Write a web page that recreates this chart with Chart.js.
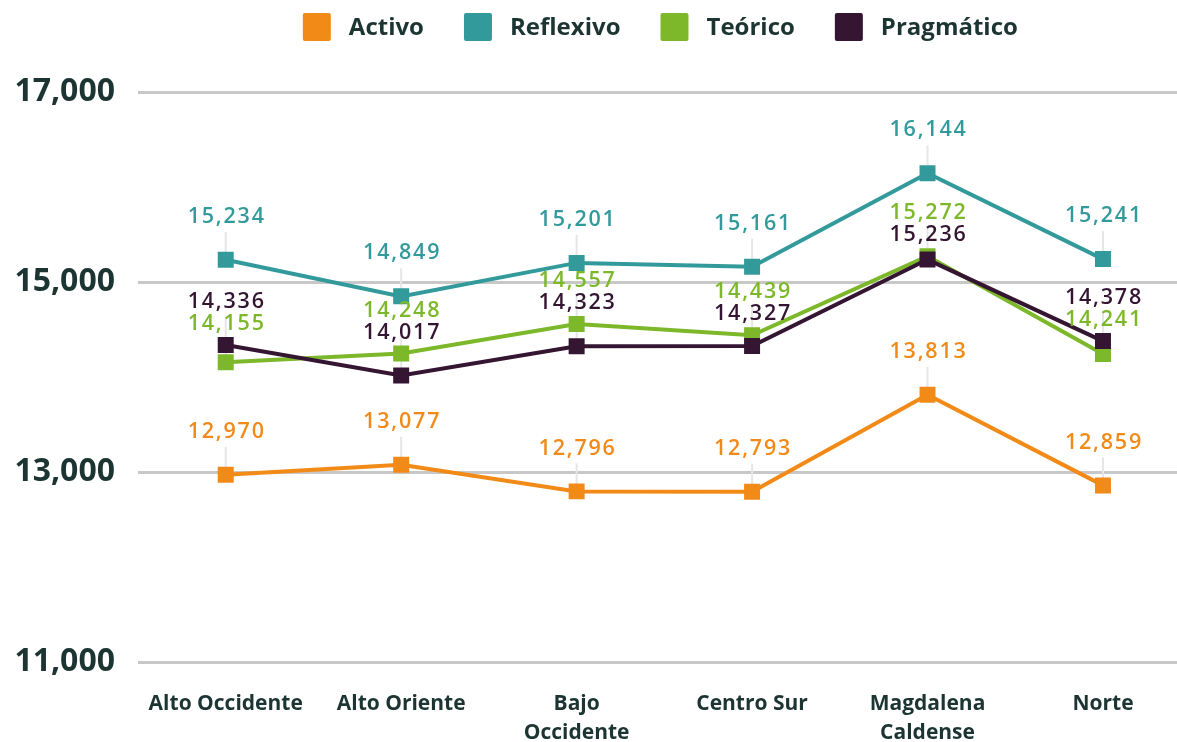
<!DOCTYPE html>
<html lang="es">
<head>
<meta charset="UTF-8">
<title>Estilos de aprendizaje por subregión</title>
<script src="https://cdn.jsdelivr.net/npm/chart.js@4.4.1/dist/chart.umd.min.js"></script>
<style>
  html, body { margin: 0; padding: 0; background: #fff; }
  #wrap { width: 1177px; height: 742px; overflow: hidden; }
</style>
</head>
<body>
<div id="wrap"><canvas id="chart" width="1202" height="742"></canvas></div>
<script>
// datos
const subregiones = [['Alto Occidente'], ['Alto Oriente'], ['Bajo', 'Occidente'], ['Centro Sur'], ['Magdalena', 'Caldense'], ['Norte']];
const activo     = [12970, 13077, 12796, 12793, 13813, 12859];
const reflexivo  = [15234, 14849, 15201, 15161, 16144, 15241];
const teorico    = [14155, 14248, 14557, 14439, 15272, 14241];
const pragmatico = [14336, 14017, 14323, 14327, 15236, 14378];
const ejeY = [11000, 13000, 15000, 17000];

const TEXTO = '#1c3533';
const series = [
  { label: 'Activo',     data: activo,     color: '#f28a17', order: 3 },
  { label: 'Reflexivo',  data: reflexivo,  color: '#339a9b', order: 2 },
  { label: 'Teórico',    data: teorico,    color: '#7cb829', order: 1 },
  { label: 'Pragmático', data: pragmatico, color: '#341532', order: 0 }
];

// etiquetas de valor con su linea guia
function posicionesEtiquetas(chart) {
  const out = [];
  const n = chart.data.labels.length;
  for (let i = 0; i < n; i++) {
    const col = [];
    chart.data.datasets.forEach((ds, d) => {
      const pt = chart.getDatasetMeta(d).data[i];
      col.push({ d, i, x: pt.x, py: pt.y, y: pt.y - 44, v: ds.data[i], color: ds.borderColor });
    });
    col.sort((a, b) => a.py - b.py);
    for (let k = 1; k < col.length; k++) {
      if (col[k].y < col[k - 1].y + 22) col[k].y = col[k - 1].y + 22;
    }
    out.push(...col);
  }
  return out;
}

const etiquetas = {
  id: 'etiquetas',
  beforeDatasetsDraw(chart) {
    const ctx = chart.ctx;
    ctx.save();
    ctx.strokeStyle = '#e6e6e6';
    ctx.lineWidth = 2;
    posicionesEtiquetas(chart).forEach(e => {
      ctx.beginPath();
      ctx.moveTo(e.x, e.y + 16);
      ctx.lineTo(e.x, e.py);
      ctx.stroke();
    });
    ctx.restore();
  },
  afterDatasetsDraw(chart) {
    const ctx = chart.ctx;
    ctx.save();
    ctx.font = '600 21.5px "Open Sans"';
    ctx.letterSpacing = '1.8px';
    ctx.textAlign = 'center';
    ctx.textBaseline = 'middle';
    posicionesEtiquetas(chart).forEach(e => {
      ctx.fillStyle = e.color;
      ctx.fillText(e.v.toLocaleString('en-US'), e.x + 1, e.y + 1);
    });
    ctx.restore();
  }
};

// leyenda propia arriba
const leyenda = {
  id: 'leyenda',
  afterDraw(chart) {
    const ctx = chart.ctx;
    const caja = 28, sep = 18, gap = 40, yc = 27;
    ctx.save();
    ctx.font = 'bold 24px "Open Sans"';
    ctx.textBaseline = 'middle';
    const anchos = series.map(s => caja + sep + ctx.measureText(s.label).width);
    const total = anchos.reduce((a, b) => a + b, 0) + gap * (series.length - 1);
    let x = (chart.chartArea.left + chart.chartArea.right) / 2 - total / 2 - 4;
    series.forEach((s, k) => {
      ctx.fillStyle = s.color;
      ctx.beginPath();
      ctx.roundRect(x, yc - caja / 2, caja, caja, 2);
      ctx.fill();
      ctx.fillStyle = TEXTO;
      ctx.fillText(s.label, x + caja + sep, yc + 1);
      x += anchos[k] + gap;
    });
    ctx.restore();
  }
};

new Chart(document.getElementById('chart'), {
  type: 'line',
  data: {
    labels: subregiones,
    datasets: series.map(s => ({
      label: s.label,
      data: s.data,
      order: s.order,
      borderColor: s.color,
      backgroundColor: s.color,
      borderWidth: 4,
      tension: 0,
      fill: false,
      pointStyle: 'rect',
      pointRadius: 11.3,
      pointHoverRadius: 11.3,
      pointBorderWidth: 0,
      pointBackgroundColor: s.color
    }))
  },
  options: {
    responsive: false,
    animation: false,
    locale: 'en-US',
    layout: { padding: { left: 10, right: 2, top: 92, bottom: 0 } },
    plugins: {
      legend: { display: false },
      tooltip: { enabled: false }
    },
    scales: {
      x: {
        offset: true,
        grid: { display: false, drawTicks: false },
        border: { display: false },
        ticks: {
          color: TEXTO,
          font: { family: 'Open Sans', size: 21, weight: 'bold', lineHeight: 1.4 },
          padding: 27,
          maxRotation: 0,
          autoSkip: false
        },
        afterFit(s) { s.height = 80; }
      },
      y: {
        min: ejeY[0],
        max: ejeY[ejeY.length - 1],
        afterBuildTicks(s) { s.ticks = ejeY.map(v => ({ value: v })); },
        grid: { color: '#c8c8c8', lineWidth: 3, drawTicks: false },
        border: { display: false },
        ticks: {
          color: TEXTO,
          font: { family: 'Open Sans', size: 32, weight: 'bold' },
          padding: 23
        },
        afterFit(s) { s.width = 128; }
      }
    }
  },
  plugins: [etiquetas, leyenda]
});
</script>
</body>
</html>
